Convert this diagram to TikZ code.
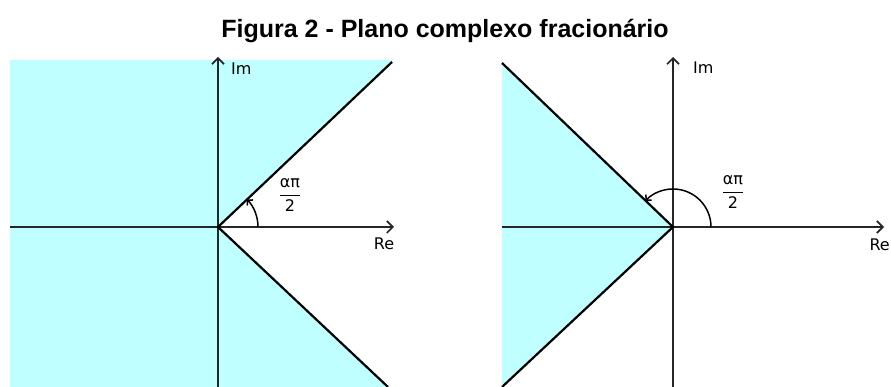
\documentclass[tikz,border=0pt]{standalone}
\usepackage{amsmath}
\usepackage{fontspec}
\setmainfont{DejaVu Sans}
\newfontfamily\titlefont{Liberation Sans}
\usetikzlibrary{arrows.meta}
\usetikzlibrary{positioning}

\definecolor{planecyan}{RGB}{192,255,255}
\newcommand{\angfrac}{$\dfrac{\text{απ}}{\text{2}}$}

\begin{document}
\begin{tikzpicture}[x=1pt,y=1pt,>={Straight Barb[length=6pt,width=12pt]},
	axis/.style={->,line width=1.7pt,black!85},
	ray/.style={line width=2.2pt,line join=round},
	region/.style={fill=planecyan,draw=none},
	angle arc/.style={-{Straight Barb[length=3.5pt,width=8pt]},line width=1.5pt},
	lbl/.style={font=\fontsize{16}{19}\selectfont,inner sep=0pt}]

	\useasboundingbox (0,0) rectangle (891,387);

	\node[font=\titlefont\bfseries\fontsize{25}{29}\selectfont] (title) at (445,356) {Figura 2 - Plano complexo fracionário};

	% left plane
	\coordinate (O1) at (218,160);
	\coordinate (U1) at (392,325);
	\coordinate (D1) at (388,0);
	\fill[region] (10,0) -- (10,327) -- (392,327) -- (U1) -- (O1) -- (D1) -- cycle;
	\coordinate (ImB1) at (218,0);
	\coordinate (ImT1) at (218,330);
	\coordinate (ReL1) at (10,160);
	\coordinate (ReR1) at (394,160);
	\draw[axis] (ImB1) -- (ImT1);
	\draw[axis] (ReL1) -- (ReR1);
	\draw[ray] (U1) -- (O1) -- (D1);
	\draw[angle arc] ([xshift=40pt]O1) arc[start angle=0,end angle=43.5,radius=40pt];
	\node[lbl,anchor=west] (im1) at (231,318) {Im};
	\node[lbl] (re1) at (384,143) {Re};
	\node[lbl] (frac1) at (290,192) {\angfrac};

	% right plane
	\coordinate (O2) at (673,160);
	\coordinate (U2) at (502,324);
	\coordinate (D2) at (502,0);
	\fill[region] (U2) -- (O2) -- (D2) -- cycle;
	\coordinate (ImB2) at (673,0);
	\coordinate (ImT2) at (673,330);
	\coordinate (ReL2) at (502,160);
	\coordinate (ReR2) at (884,160);
	\draw[axis] (ImB2) -- (ImT2);
	\draw[axis] (ReL2) -- (ReR2);
	\draw[ray] (U2) -- (O2) -- (D2);
	\draw[angle arc] ([xshift=38pt]O2) arc[start angle=0,end angle=136.2,radius=38pt];
	\node[lbl,anchor=west] (im2) at (693,319) {Im};
	\node[lbl,anchor=east] (re2) at (890,142) {Re};
	\node[lbl] (frac2) at (733,195) {\angfrac};

\end{tikzpicture}
\end{document}
